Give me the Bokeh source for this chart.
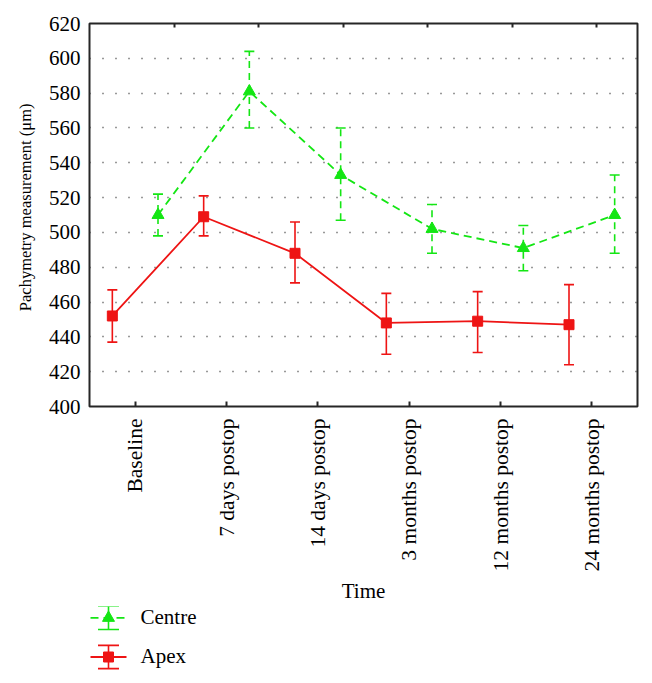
import math
from bokeh.plotting import figure
from bokeh.layouts import column
from bokeh.models import (ColumnDataSource, Whisker, TeeHead, FixedTicker, LinearAxis,
                          Range1d, Title)
from bokeh.core.properties import value
from bokeh.embed import file_html
from bokeh.resources import INLINE

# ---------------- data ----------------
categories = ["Baseline", "7 days postop", "14 days postop",
              "3 months postop", "12 months postop", "24 months postop"]
centre_mean = [510, 581, 533, 502, 491, 510]
centre_upper = [522, 604, 560, 516, 504, 533]
centre_lower = [498, 560, 507, 488, 478, 488]
apex_mean = [452, 509, 488, 448, 449, 447]
apex_upper = [467, 521, 506, 465, 466, 470]
apex_lower = [437, 498, 471, 430, 431, 424]
y_ticks = [400, 420, 440, 460, 480, 500, 520, 540, 560, 580, 600, 620]
series_names = ["Centre", "Apex"]

GREEN = "#14e614"
RED = "#ee1414"
FONT = "Liberation Serif"
FRAME_COL = "#262626"

n = len(categories)
tick_pos = [i + 0.5 for i in range(n)]
centre_x = [i + 0.75 for i in range(n)]
apex_x = [i + 0.25 for i in range(n)]

W = 652
MAIN_H = 606
LEG_H = 77
FRAME_L, FRAME_R = 89, 637

p = figure(width=W, height=MAIN_H, x_range=Range1d(0, n), y_range=Range1d(y_ticks[0], y_ticks[-1]),
           output_backend="svg", toolbar_location=None,
           min_border_left=FRAME_L, min_border_right=W - FRAME_R, min_border_top=23,
           min_border_bottom=MAIN_H - 407)
p.background_fill_color = "white"
p.border_fill_color = "white"
p.outline_line_color = FRAME_COL
p.outline_line_width = 2
p.outline_line_alpha = 1

# y axis
p.yaxis.ticker = FixedTicker(ticks=y_ticks)
p.yaxis.major_tick_in = 0
p.yaxis.major_tick_out = 0
p.yaxis.minor_tick_line_color = None
p.yaxis.axis_line_color = None
p.yaxis.major_label_standoff = 9
p.yaxis.major_label_text_font = FONT
p.yaxis.major_label_text_font_size = "21px"
p.yaxis.major_label_text_color = "black"

ytitle = Title(text="Pachymetry measurement (μm)", align="right", offset=80,
               vertical_align="middle", text_font=FONT, text_font_size="16.5px",
               text_font_style="normal", text_color="black", standoff=20)
p.add_layout(ytitle, "left")

# x axis
p.xaxis.ticker = FixedTicker(ticks=tick_pos)
p.xaxis.major_label_overrides = {t: c for t, c in zip(tick_pos, categories)}
p.xaxis.major_label_orientation = math.pi / 2
p.xaxis.major_tick_in = 5
p.xaxis.major_tick_out = 0
p.xaxis.major_tick_line_width = 2
p.xaxis.major_tick_line_color = FRAME_COL
p.xaxis.minor_tick_line_color = None
p.xaxis.axis_line_color = None
p.xaxis.major_label_standoff = 12
p.xaxis.major_label_text_font = FONT
p.xaxis.major_label_text_font_size = "21.5px"
p.xaxis.major_label_text_color = "black"
p.xaxis.axis_label = "Time"
p.xaxis.axis_label_text_font = FONT
p.xaxis.axis_label_text_font_size = "21px"
p.xaxis.axis_label_text_font_style = "normal"
p.xaxis.axis_label_text_color = "black"
p.xaxis.axis_label_standoff = 5

# top axis: tick marks only
top_ticks = [0.93 + 0.924 * k for k in range(n)]
top = LinearAxis(ticker=FixedTicker(ticks=top_ticks), major_tick_in=4, major_tick_out=0,
                 major_tick_line_width=2, major_tick_line_color=FRAME_COL,
                 minor_tick_line_color=None, axis_line_color=None,
                 major_label_text_color=None, major_label_text_alpha=0,
                 major_label_text_font_size="6px", major_label_standoff=0)
p.add_layout(top, "above")

# grid
p.xgrid.visible = False
p.ygrid.ticker = FixedTicker(ticks=y_ticks[1:-1])
p.ygrid.grid_line_color = "#333333"
p.ygrid.grid_line_dash = "1 12"
p.ygrid.grid_line_width = 1.3

# ---------------- series ----------------
csrc = ColumnDataSource(dict(x=centre_x, y=centre_mean, lo=centre_lower, hi=centre_upper))
asrc = ColumnDataSource(dict(x=apex_x, y=apex_mean, lo=apex_lower, hi=apex_upper))

p.add_layout(Whisker(source=csrc, base="x", lower="lo", upper="hi", dimension="height",
                     line_color=GREEN, line_width=1.6, line_dash="7 5",
                     upper_head=TeeHead(size=10, line_color=GREEN, line_width=1.6),
                     lower_head=TeeHead(size=10, line_color=GREEN, line_width=1.6)))
p.add_layout(Whisker(source=asrc, base="x", lower="lo", upper="hi", dimension="height",
                     line_color=RED, line_width=1.6,
                     upper_head=TeeHead(size=10, line_color=RED, line_width=1.6),
                     lower_head=TeeHead(size=10, line_color=RED, line_width=1.6)))

p.line("x", "y", source=csrc, line_color=GREEN, line_width=1.8, line_dash="8 5")
p.scatter("x", "y", source=csrc, marker="triangle", size=12, fill_color=GREEN, line_color=GREEN)
p.line("x", "y", source=asrc, line_color=RED, line_width=1.8)
p.scatter("x", "y", source=asrc, marker="square", size=10, fill_color=RED, line_color=RED)

# ---------------- legend panel (page-pixel coordinates; frame aligned with main frame) ----------------
leg = figure(width=W, height=LEG_H, x_range=Range1d(FRAME_L, FRAME_R), y_range=Range1d(LEG_H, 0),
             output_backend="svg", toolbar_location=None,
             x_axis_location=None, y_axis_location=None,
             min_border_left=FRAME_L, min_border_right=W - FRAME_R,
             min_border_top=0, min_border_bottom=0)
leg.outline_line_color = None
leg.xgrid.visible = False
leg.ygrid.visible = False
leg.background_fill_color = "white"
leg.border_fill_color = "white"

LX0, LX1, LXC = 90, 126, 108
TEXT_X = 140
ROW_Y = [11.4, 50.5]
HALF_BAR = 11.6
CAP = 10.5
colors = [GREEN, RED]
dashes = ["8 5", "solid"]
markers = ["triangle", "square"]
msizes = [12, 10]

for name, yc, col, dash, mk, ms in zip(series_names, ROW_Y, colors, dashes, markers, msizes):
    leg.segment(x0=[LX0], y0=[yc], x1=[LX1], y1=[yc], line_color=col, line_width=1.8, line_dash=dash)
    leg.segment(x0=[LXC], y0=[yc - HALF_BAR], x1=[LXC], y1=[yc + HALF_BAR], line_color=col, line_width=1.6)
    leg.segment(x0=[LXC - CAP, LXC - CAP], y0=[yc - HALF_BAR, yc + HALF_BAR],
                x1=[LXC + CAP, LXC + CAP], y1=[yc - HALF_BAR, yc + HALF_BAR],
                line_color=col, line_width=1.6)
    leg.scatter(x=[LXC], y=[yc], marker=mk, size=ms, fill_color=col, line_color=col)
    leg.text(x=[TEXT_X], y=[yc - 1], text=[name], text_font=value(FONT), text_font_size="21px",
             text_color="black", text_baseline="middle", text_align="left")

layout = column(p, leg, spacing=0)
open("out.html", "w").write(file_html(layout, INLINE))
